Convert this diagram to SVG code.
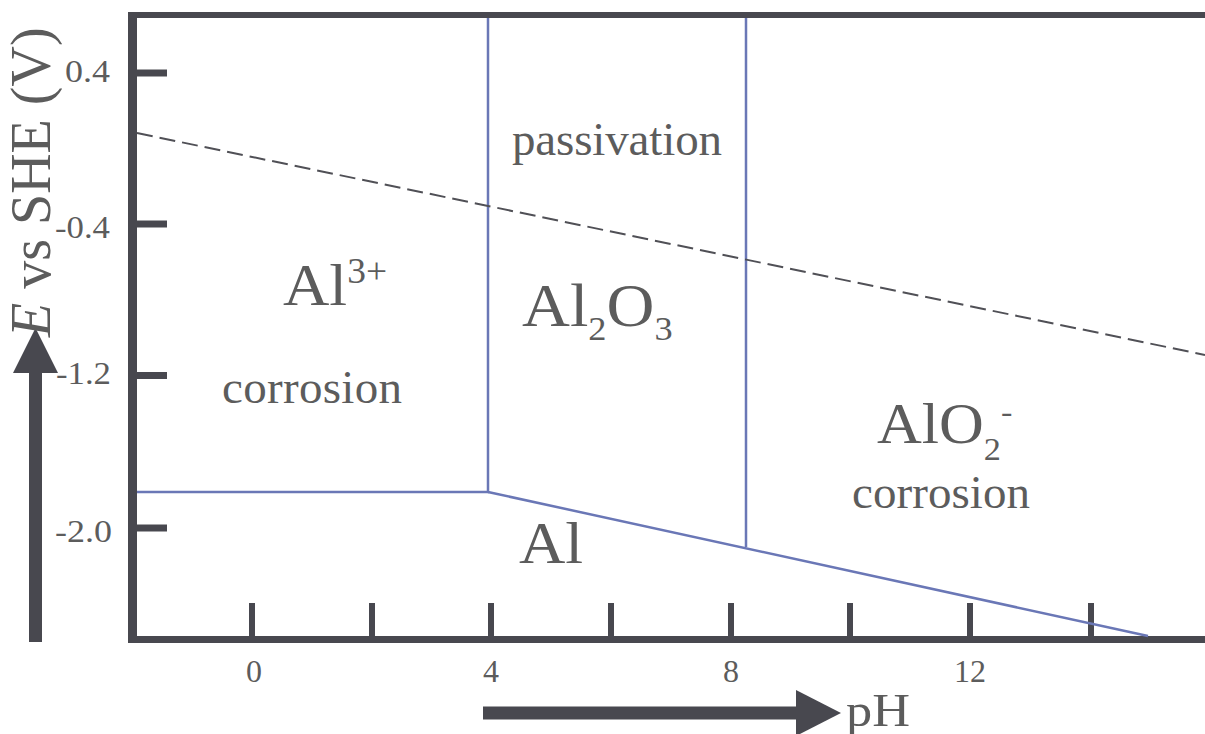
<svg xmlns="http://www.w3.org/2000/svg" width="1205" height="734" viewBox="0 0 1205 734">
<style>
.t{font-family:"Liberation Serif","Times New Roman",serif;fill:#5c5c5c}
.frame{stroke:#48484f;fill:none}
.blue{stroke:#6a77b6;stroke-width:2.5;fill:none}
.dash{stroke:#505056;stroke-width:2;stroke-dasharray:16 7;fill:none}
.arrow{fill:#48484f}
</style>
<rect width="1205" height="734" fill="#ffffff"/>
<g id="frame">
<line class="frame" x1="128" y1="15" x2="1205" y2="15" stroke-width="6"/>
<line class="frame" x1="132.5" y1="12" x2="132.5" y2="643" stroke-width="9"/>
<line class="frame" x1="128" y1="639.5" x2="1205" y2="639.5" stroke-width="7"/>
<g stroke="#48484f" stroke-width="7">
<line x1="137" y1="73" x2="167" y2="73"/>
<line x1="137" y1="224" x2="167" y2="224"/>
<line x1="137" y1="375.5" x2="167" y2="375.5"/>
<line x1="137" y1="528" x2="167" y2="528"/>
</g>
<g stroke="#48484f" stroke-width="6">
<line x1="252" y1="603" x2="252" y2="636"/>
<line x1="372" y1="603" x2="372" y2="636"/>
<line x1="491" y1="603" x2="491" y2="636"/>
<line x1="611" y1="603" x2="611" y2="636"/>
<line x1="731" y1="603" x2="731" y2="636"/>
<line x1="850" y1="603" x2="850" y2="636"/>
<line x1="970" y1="603" x2="970" y2="636"/>
<line x1="1091" y1="603" x2="1091" y2="636"/>
</g>
</g>
<g id="connectors">
<polyline class="blue" points="137,492 488,492 488,18"/>
<line class="blue" x1="488" y1="492" x2="1148" y2="636"/>
<line class="blue" x1="746" y1="18" x2="746" y2="547"/>
<line class="dash" x1="137" y1="133" x2="1205" y2="355"/>
</g>
<g id="axis-arrows">
<rect class="arrow" x="29" y="370" width="13" height="272"/>
<polygon class="arrow" points="35.5,328 13,373 58,373"/>
<rect class="arrow" x="483" y="706.5" width="318" height="13"/>
<polygon class="arrow" points="796,690 796,736 841,713"/>
</g>
<g id="axis-labels">
<text class="t" font-size="56" transform="translate(50,337) rotate(-90)"><tspan font-style="italic">E</tspan> vs SHE (V)</text>
<text class="t" font-size="46" x="846" y="726" textLength="64" lengthAdjust="spacingAndGlyphs">pH</text>
<g font-size="31">
<text class="t" x="65" y="82" textLength="45" lengthAdjust="spacingAndGlyphs">0.4</text>
<text class="t" x="55" y="238" textLength="55" lengthAdjust="spacingAndGlyphs">-0.4</text>
<text class="t" x="56" y="384" textLength="55" lengthAdjust="spacingAndGlyphs">-1.2</text>
<text class="t" x="55" y="542" textLength="57" lengthAdjust="spacingAndGlyphs">-2.0</text>
</g>
<g font-size="32" text-anchor="middle">
<text class="t" x="254" y="682">0</text>
<text class="t" x="491" y="682">4</text>
<text class="t" x="731" y="682">8</text>
<text class="t" x="970" y="682">12</text>
</g>
</g>
<g id="region-al3">
<text class="t" font-size="60" transform="translate(283,305) scale(1.07,1)">Al<tspan font-size="35" dy="-22">3+</tspan></text>
<text class="t" font-size="47" x="222" y="403" textLength="180">corrosion</text>
</g>
<g id="region-al2o3">
<text class="t" font-size="47" x="512" y="155" textLength="210">passivation</text>
<text class="t" font-size="62" transform="translate(522,326) scale(1.07,1)">Al<tspan font-size="34" dy="14">2</tspan><tspan dy="-14">O</tspan><tspan font-size="34" dy="14">3</tspan></text>
</g>
<g id="region-alo2">
<text class="t" font-size="58" transform="translate(877,443) scale(1.07,1)">AlO<tspan font-size="32" dy="17">2</tspan><tspan font-size="32" dy="-38">-</tspan></text>
<text class="t" font-size="47" x="852" y="508" textLength="178">corrosion</text>
</g>
<g id="region-al">
<text class="t" font-size="60" transform="translate(519,563) scale(1.07,1)">Al</text>
</g>
</svg>
